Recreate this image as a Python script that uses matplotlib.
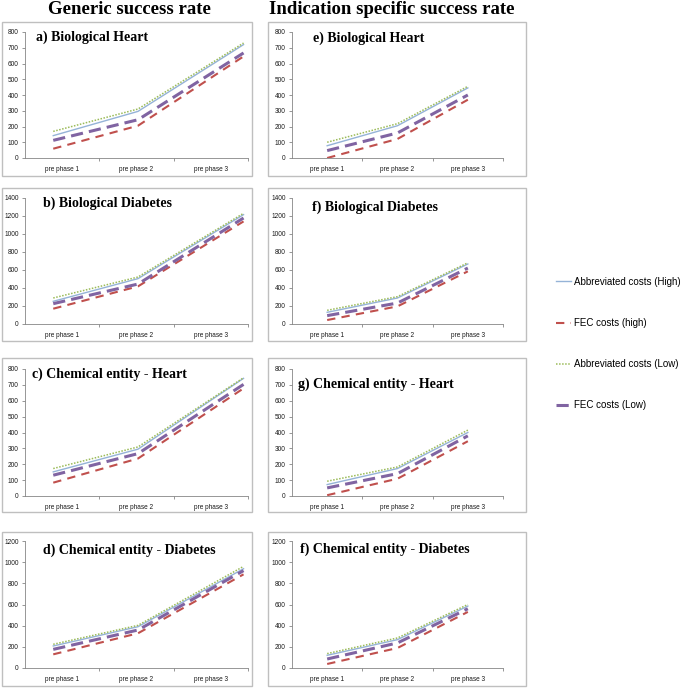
import matplotlib
matplotlib.use("Agg")
import matplotlib.pyplot as plt
from matplotlib.patches import Rectangle
from matplotlib.lines import Line2D

W, H = 685, 688

categories = ["pre phase 1", "pre phase 2", "pre phase 3"]
series_names = ["Abbreviated costs (High)", "FEC costs (high)",
                "Abbreviated costs (Low)", "FEC costs (Low)"]

# rows: Abbreviated High, FEC high, Abbreviated Low, FEC Low
bio_heart_generic = [[142, 296, 720], [59, 205, 645], [169, 311, 730], [112, 243, 667]]
bio_diab_generic = [[252, 504, 1215], [170, 418, 1140], [289, 522, 1230], [226, 444, 1178]]
chem_heart_generic = [[152, 295, 741], [84, 236, 678], [173, 309, 745], [131, 267, 703]]
chem_diab_generic = [[208, 390, 938], [129, 328, 885], [224, 403, 960], [176, 359, 920]]

bio_heart_specific = [[78, 205, 445], [0, 121, 370], [100, 218, 455], [47, 159, 400]]
bio_diab_specific = [[130, 289, 667], [44, 196, 585], [152, 304, 680], [93, 233, 622]]
chem_heart_specific = [[72, 173, 400], [5, 109, 345], [93, 183, 415], [51, 141, 379]]
chem_diab_specific = [[120, 268, 585], [38, 189, 530], [136, 284, 600], [85, 237, 560]]

titles = ["a) Biological Heart", "b) Biological Diabetes",
          "c) Chemical entity - Heart", "d) Chemical entity - Diabetes",
          "e) Biological Heart", "f) Biological Diabetes",
          "g) Chemical entity - Heart", "f) Chemical entity - Diabetes"]
panels = [bio_heart_generic, bio_diab_generic, chem_heart_generic, chem_diab_generic,
          bio_heart_specific, bio_diab_specific, chem_heart_specific, chem_diab_specific]
ymax = [800, 1400, 800, 1200]
ystep = [100, 200, 100, 200]

colors = ["#95B3D7", "#C0504D", "#9BBB59", "#8064A2"]
styles = [dict(ls="-", lw=1.0),
          dict(ls=(0, (4, 3)), lw=1.5),
          dict(ls=(0, (1, 1)), lw=1.1),
          dict(ls=(0, (4, 2)), lw=2.2)]

serif = ["Liberation Serif", "DejaVu Serif"]
sans = ["Liberation Sans", "DejaVu Sans"]

fig = plt.figure(figsize=(W / 100, H / 100), dpi=100)


def frac(x0, y0, x1, y1):
    return [x0 / W, 1 - y1 / H, (x1 - x0) / W, (y1 - y0) / H]


# panel boxes (pixel coords)
box_cols = [(2, 252), (268, 526)]
box_rows = [(22, 176), (188, 341), (358, 512), (532, 686)]
ax_cols = [(25, 248), (292, 503)]
ax_rows = [(32, 158), (198, 324), (369, 496), (541, 668)]
title_pos = [(36, 37), (43, 203), (32, 374), (43, 550),
             (313, 38), (312, 207), (298, 384), (300, 549)]
# the generic-rate panels have their lines stretched past the category centres
x_generic = [-0.12, 1.02, 2.44]
x_specific = [0, 1, 2]

for c in range(2):
    for r in range(4):
        i = c * 4 + r
        bx, by = box_cols[c], box_rows[r]
        fig.add_artist(Rectangle((bx[0] / W, 1 - by[1] / H), (bx[1] - bx[0]) / W,
                                 (by[1] - by[0]) / H, transform=fig.transFigure,
                                 fill=False, ec="#BFBFBF", lw=1.0))
        ax = fig.add_axes(frac(ax_cols[c][0], ax_rows[r][0], ax_cols[c][1], ax_rows[r][1]))
        xs = x_generic if c == 0 else x_specific
        for k in range(4):
            ax.plot(xs, panels[i][k], color=colors[k], **styles[k])
        ax.set_xlim(-0.5, 2.5)
        ax.set_ylim(0, ymax[r])
        ax.set_yticks(range(0, ymax[r] + 1, ystep[r]))
        ax.set_xticks([0, 1, 2])
        ax.set_xticklabels(categories)
        ax.set_xticks([0.5, 1.5, 2.5], minor=True)
        ax.tick_params(axis="x", which="major", length=0, pad=6, labelsize=4.7)
        ax.tick_params(axis="x", which="minor", length=2.5, color="#868686", width=0.6)
        ax.tick_params(axis="y", length=2.5, color="#868686", width=0.6, pad=2, labelsize=4.7)
        for lab in ax.get_xticklabels() + ax.get_yticklabels():
            lab.set_family(sans)
            lab.set_color("#1a1a1a")
        for s in ["top", "right"]:
            ax.spines[s].set_visible(False)
        for s in ["left", "bottom"]:
            ax.spines[s].set_color("#868686")
            ax.spines[s].set_linewidth(0.6)
        ax.patch.set_alpha(0)
        tx, ty = title_pos[i]
        fig.text(tx / W, 1 - ty / H, titles[i], family=serif, weight="bold",
                 fontsize=10, va="center", ha="left")

fig.text(129 / W, 1 - 9 / H, "Generic success rate", family=serif, weight="bold",
         fontsize=13.5, ha="center", va="center")
fig.text(392 / W, 1 - 9 / H, "Indication specific success rate", family=serif,
         weight="bold", fontsize=13.5, ha="center", va="center")

handles = [Line2D([], [], color=colors[k], **styles[k]) for k in range(4)]
fig.legend(handles, series_names, loc="upper left",
           bbox_to_anchor=(551 / W, 1 - 272 / H), frameon=False,
           prop=dict(family=sans, size=7.0), handlelength=1.6,
           handletextpad=0.25, labelspacing=3.2, borderpad=0)

fig.savefig("out.png", dpi=100)
